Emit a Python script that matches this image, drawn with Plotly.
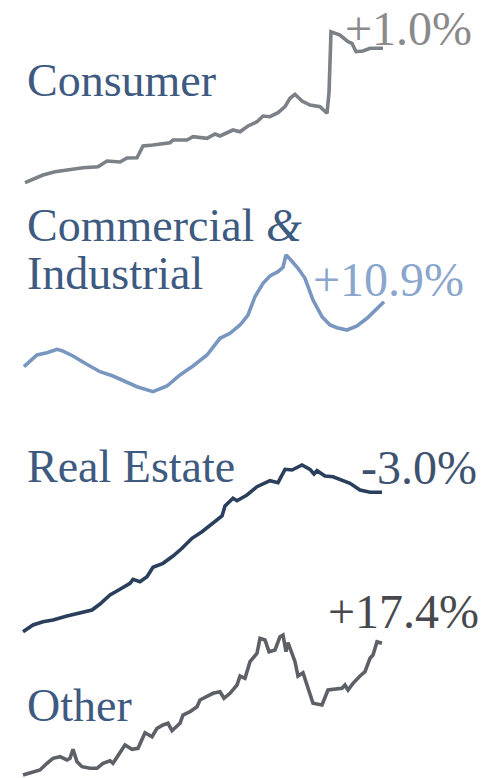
import plotly.graph_objects as go

# ---- data (time index, index level) ----
consumer_t = [2, 20, 32, 44, 60, 75, 84, 97, 104, 114, 120, 130, 147, 150, 164, 170, 184, 192, 197, 210,
              217, 225, 234, 240, 247, 255, 262, 267, 272, 279, 287, 297, 304, 306, 308, 317, 325, 329,
              333, 340, 347, 360]
consumer_v = [0.3, 8, 11.3, 13, 15.3, 16.3, 22, 21, 25, 25.3, 37, 38, 40.3, 43, 43, 46.3, 44.7, 49, 47, 53,
              51.3, 57, 61.3, 67, 66.3, 70.3, 76.3, 84.7, 88.7, 82, 78, 76.3, 69.7, 90, 151.3, 148, 141.3,
              139.7, 131.3, 132, 134.7, 134.7]

ci_t = [1, 14, 24, 34, 39, 50, 62, 77, 90, 104, 114, 130, 144, 157, 170, 184, 197, 207, 217, 225, 232,
        240, 247, 255, 260, 263, 267, 275, 282, 290, 299, 307, 314, 324, 334, 344, 352, 361]
ci_v = [25.3, 37, 39.3, 42.7, 41.3, 36, 28.7, 20.3, 16, 10.3, 5.3, 0.3, 6, 17, 26, 37, 53.7, 58.7, 67, 77,
        95.3, 108.7, 116, 120.3, 124.7, 137, 133, 123.7, 113.7, 92, 75.3, 67, 64.3, 62, 66, 73.7, 81.3, 90.3]

re_t = [0, 10, 20, 30, 44, 57, 69, 77, 87, 97, 107, 110, 117, 124, 130, 140, 150, 159, 169, 179, 189, 199,
        202, 210, 214, 224, 234, 247, 255, 262, 269, 279, 287, 291, 294, 302, 310, 327, 337, 347, 359]
re_v = [0.3, 7, 10.3, 12, 16, 19.3, 22, 28, 37, 42.7, 48.7, 52.7, 50.3, 55.3, 64.7, 68.7, 76, 83.7, 93.7,
        100.3, 108.7, 116, 126, 133.7, 131.3, 137, 145.3, 151.3, 149.3, 162.7, 162, 167, 162.7, 158, 161.3,
        156, 155.3, 148.7, 142, 139.7, 139.7]

other_t = [0, 10, 17, 24, 30, 37, 44, 47, 50, 54, 59, 67, 74, 80, 87, 90, 97, 102, 109, 115, 122, 129, 134,
           140, 145, 149, 157, 160, 167, 174, 177, 184, 190, 197, 201, 207, 214, 217, 222, 227, 234, 237,
           242, 246, 252, 257, 260, 263, 265, 272, 275, 280, 285, 290, 299, 305, 319, 322, 325, 330, 337,
           342, 347, 350, 354, 359]
other_v = [1, 4.3, 6, 12.7, 17.7, 19.3, 16, 17.7, 26.7, 14.3, 9.3, 7.7, 7.7, 12.7, 15.3, 12.7, 22.7, 31,
           26.7, 27.7, 43.3, 39.3, 47.7, 51, 52.7, 45.3, 52.7, 61, 64.3, 69.3, 76, 80, 82.7, 84.3, 77.7, 82.7,
           91, 100, 97.7, 114.3, 122.7, 137.7, 136, 124.3, 126, 139.3, 141, 124.3, 133.3, 114.3, 100, 103.3,
           87.7, 72.7, 71, 86, 87.7, 91, 86, 92.7, 100, 104.3, 117.7, 121, 134.3, 132.7]

label_lines = [["Consumer"], ["Commercial <i>&</i>", "Industrial"], ["Real Estate"], ["Other"]]
changes = ["+1.0%", "+10.9%", "-3.0%", "+17.4%"]

# ---- styling ----
W, H = 497, 778
line_colors = ["#7c8087", "#7896c0", "#2a3f5c", "#5d6066"]
change_colors = ["#8a8a8a", "#8aa6cc", "#3e5270", "#47494d"]
label_color = "#3e5a80"
baselines = [183, 392, 632, 776]          # pixel row of each series' zero level
label_mid = [[81], [225, 273], [466], [705]]   # vertical middle of each label line (px)
label_left = 25
change_pos = [(474, 23), (466, 279), (479, 467), (481, 611)]  # right, vertical middle (px)
FONT = "Liberation Serif"
SIZE = 46

series = [(consumer_t, consumer_v), (ci_t, ci_v), (re_t, re_v), (other_t, other_v)]

fig = go.Figure()
for i, (t, v) in enumerate(series):
    fig.add_trace(go.Scatter(
        x=t, y=v, mode="lines", yaxis="y" if i == 0 else f"y{i+1}",
        line=dict(color=line_colors[i], width=3.6), hoverinfo="skip", showlegend=False))

layout = dict(
    width=W, height=H, margin=dict(l=0, r=0, t=0, b=0),
    paper_bgcolor="white", plot_bgcolor="white", showlegend=False,
    font=dict(family=FONT),
    xaxis=dict(range=[-23, W - 23], visible=False, fixedrange=True),
)
for i, b in enumerate(baselines):
    key = "yaxis" if i == 0 else f"yaxis{i+1}"
    ax = dict(range=[b - H, b], visible=False, domain=[0, 1], fixedrange=True)
    if i > 0:
        ax["overlaying"] = "y"
    layout[key] = ax
fig.update_layout(**layout)

for i in range(4):
    for txt, ly in zip(label_lines[i], label_mid[i]):
        fig.add_annotation(
            text=txt, xref="paper", yref="paper", x=label_left / W, y=1 - ly / H,
            xanchor="left", yanchor="middle", showarrow=False, align="left",
            font=dict(family=FONT, size=SIZE, color=label_color))
    cx, cy = change_pos[i]
    if i == 0:
        # top label: anchor to the top edge so it stays inside the page
        fig.add_annotation(
            text=changes[i], xref="paper", yref="paper", x=cx / W, y=1,
            xanchor="right", yanchor="top", showarrow=False,
            font=dict(family=FONT, size=SIZE + 2, color=change_colors[i]))
    else:
        fig.add_annotation(
            text=changes[i], xref="paper", yref="paper", x=cx / W, y=1 - cy / H,
            xanchor="right", yanchor="middle", showarrow=False,
            font=dict(family=FONT, size=SIZE + 2, color=change_colors[i]))

fig.write_html("out.html", config={"displayModeBar": False, "staticPlot": True},
               post_script="document.body.style.margin='0px';")
